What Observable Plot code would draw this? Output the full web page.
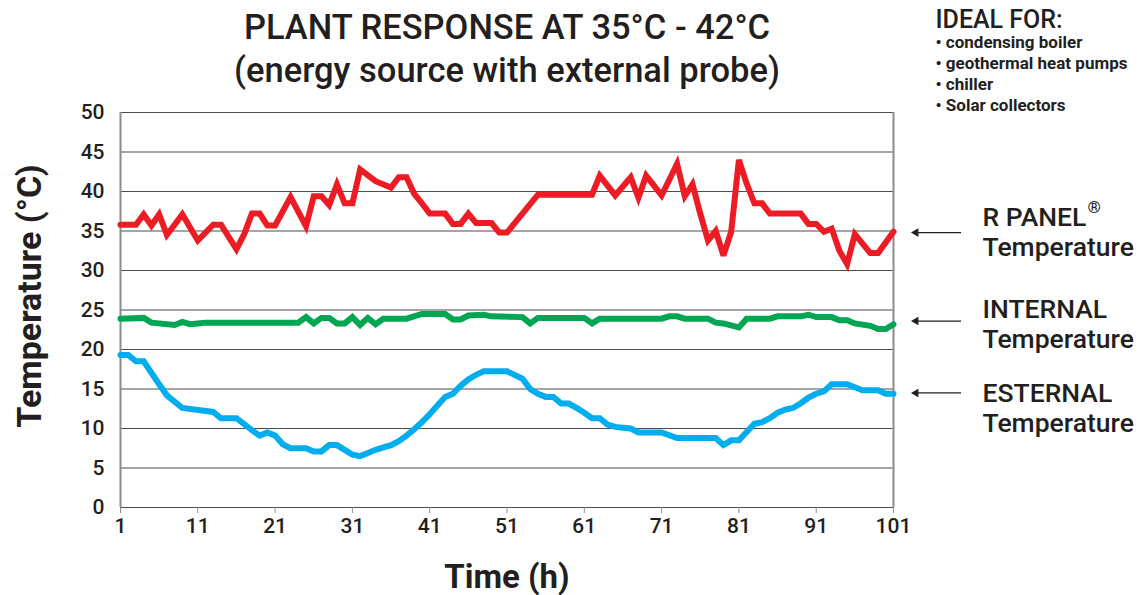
<!DOCTYPE html>
<html>
<head>
<meta charset="utf-8">
<script src="https://cdn.jsdelivr.net/npm/d3@7"></script>
<script src="https://cdn.jsdelivr.net/npm/@observablehq/plot@0.6"></script>
<style>
  html, body { margin: 0; padding: 0; background: #fff; }
  #chart { width: 1142px; height: 595px; }
</style>
</head>
<body>
<div id="chart"></div>
<script>
// ---------- data ----------
const titleLines = ["PLANT RESPONSE AT 35°C - 42°C", "(energy source with external probe)"];
const idealTitle = "IDEAL FOR:";
const idealItems = ["• condensing boiler", "• geothermal heat pumps", "• chiller", "• Solar collectors"];
const xTicks = [1, 11, 21, 31, 41, 51, 61, 71, 81, 91, 101];
const yTicks = [0, 5, 10, 15, 20, 25, 30, 35, 40, 45, 50];
const xLabel = "Time (h)";
const yLabel = "Temperature (°C)";

// R PANEL temperature (vertices: hour, °C)
const panelHours = [1,3,4,5,6,7,9,11,13,14,16,17,18,19,20,21,23,25,26,27,28,29,30,31,32,34,36,37,38,39,40,41,43,44,45,46,47,49,50,51,55,62,63,65,67,68,69,71,73,74,75,76,77,78,79,80,81,82,83,84,85,89,90,91,92,93,94,95,96,98,99,101];
const panelTemps = [35.8,35.8,37.1,35.7,37.1,34.5,37.1,33.8,35.8,35.8,32.7,34.6,37.2,37.2,35.7,35.7,39.3,35.6,39.4,39.4,38.3,40.9,38.5,38.5,42.8,41.3,40.5,41.8,41.8,39.7,38.5,37.2,37.2,35.9,35.9,37.2,36.0,36.0,34.8,34.8,39.6,39.6,42.0,39.5,41.8,39.2,42.0,39.5,43.5,39.4,40.9,37.2,33.8,35.0,31.9,34.9,44.0,41.0,38.5,38.5,37.2,37.2,35.9,35.9,34.9,35.3,32.5,30.8,34.6,32.2,32.2,34.9];

// INTERNAL temperature
const internalHours = [1,4,5,8,9,10,11,12,24,25,26,27,28,29,30,31,32,33,34,35,38,40,43,44,45,46,48,49,53,54,55,61,62,63,71,72,73,74,77,78,79,81,82,85,86,89,90,91,93,94,95,96,98,99,100,101];
const internalTemps = [23.9,24.0,23.4,23.1,23.5,23.2,23.3,23.4,23.4,24.1,23.3,24.0,24.0,23.3,23.3,24.1,23.1,24.0,23.2,23.9,23.9,24.5,24.5,23.8,23.8,24.3,24.4,24.2,24.1,23.3,24.0,24.0,23.3,23.9,23.9,24.2,24.2,23.9,23.9,23.4,23.3,22.8,23.9,23.9,24.2,24.2,24.4,24.1,24.1,23.7,23.7,23.3,23.0,22.6,22.6,23.2];

// ESTERNAL (external) temperature
const externalHours = [1,2,3,4,6,7,9,13,14,16,18,19,20,21,22,23,25,26,27,28,29,31,32,33,34,35,36,37,38,39,40,41,42,43,44,45,46,47,48,51,53,54,55,56,57,58,59,60,61,62,63,64,65,66,67,68,71,73,78,79,80,81,83,84,85,86,87,88,89,90,91,92,93,95,97,99,100,101];
const externalTemps = [19.3,19.3,18.5,18.5,15.6,14.2,12.6,12.1,11.3,11.3,9.8,9.1,9.5,9.1,8.0,7.5,7.5,7.1,7.1,7.9,7.9,6.7,6.5,6.9,7.3,7.6,7.9,8.4,9.1,9.9,10.8,11.8,12.9,14.0,14.4,15.4,16.2,16.8,17.25,17.25,16.3,15.0,14.4,14.0,14.0,13.15,13.15,12.6,12.0,11.3,11.3,10.5,10.2,10.1,10.0,9.5,9.5,8.8,8.8,7.9,8.5,8.5,10.6,10.8,11.3,12.0,12.4,12.6,13.2,13.9,14.4,14.7,15.6,15.6,14.85,14.85,14.4,14.4];

// right-hand series labels
const seriesNames = ["R PANEL\nTemperature", "INTERNAL\nTemperature", "ESTERNAL\nTemperature"];
const registered = "®";
const arrowLevels = [34.8, 23.6, 14.5];
const labelLevels = [34.9, 23.3, 12.7];

// ---------- styling / layout ----------
const ink = "#231f20";
const colors = { panel: "#ed1c24", internal: "#00a651", external: "#00aeef" };
const font = "Roboto, 'Noto Sans', sans-serif";

const toRows = (hours, temps) => hours.map((h, i) => ({ h, t: temps[i] }));
const panel = toRows(panelHours, panelTemps);
const internal = toRows(internalHours, internalTemps);
const external = toRows(externalHours, externalTemps);
const labels = seriesNames.map((s, i) => ({ s, a: arrowLevels[i], l: labelLevels[i] }));

const lineOpts = { x: "h", y: "t", strokeWidth: 6, strokeLinejoin: "miter", strokeMiterlimit: 3, curve: "linear" };

const chart = Plot.plot({
  width: 1142,
  height: 595,
  marginLeft: 120,
  marginRight: 249,
  marginTop: 112,
  marginBottom: 88,
  style: { fontFamily: font, background: "#fff", color: ink, overflow: "visible" },
  x: { domain: [1, 101], label: null },
  y: { domain: [0, 50], label: null },
  marks: [
    Plot.ruleY(yTicks, { stroke: "#4d4d4d", strokeWidth: 1.2 }),
    Plot.ruleX([1, 101], { stroke: "#8c8c8c", strokeWidth: 2 }),
    Plot.axisY({ ticks: yTicks, tickSize: 0, tickPadding: 16, fontSize: 21, fontWeight: 500, fill: ink, label: null }),
    Plot.axisX({ ticks: xTicks, tickSize: 6, tickPadding: 5, fontSize: 21, fontWeight: 500, fill: ink, stroke: "#8c8c8c", label: null }),
    Plot.lineY(external, { ...lineOpts, stroke: colors.external }),
    Plot.lineY(internal, { ...lineOpts, stroke: colors.internal }),
    Plot.lineY(panel, { ...lineOpts, stroke: colors.panel }),
    // axis titles
    Plot.text([yLabel], { frameAnchor: "left", textAnchor: "middle", lineAnchor: "middle", dx: -90, dy: -14, rotate: -90, fontSize: 34, fontWeight: 700, fill: ink }),
    Plot.text([xLabel], { frameAnchor: "bottom", lineAnchor: "middle", dy: 70, fontSize: 33, fontWeight: 700, fill: ink }),
    // title
    Plot.text([titleLines.join("\n")], { frameAnchor: "top", lineAnchor: "middle", dy: -65.5, lineHeight: 1.25, fontSize: 34.5, fontWeight: 500, fill: ink }),
    // ideal for
    Plot.text([idealTitle], { frameAnchor: "top-right", lineAnchor: "middle", dx: 42, dy: -93, textAnchor: "start", fontSize: 25, fontWeight: 500, fill: ink }),
    Plot.text([idealItems.join("\n")], { frameAnchor: "top-right", lineAnchor: "middle", dx: 42, dy: -39.5, textAnchor: "start", lineHeight: 1.24, fontSize: 17, fontWeight: 700, fill: ink }),
    // series labels with arrows
    Plot.ruleY(labels, { y: "a", x1: 103.8, x2: 109.8, stroke: ink, strokeWidth: 1.3, clip: false }),
    Plot.dot(labels, { y: "a", x: 103.9, symbol: "triangle", rotate: -90, r: 3.2, fill: ink, stroke: null }),
    Plot.text(labels, { y: "l", text: "s", frameAnchor: "right", dx: 89, textAnchor: "start", lineHeight: 1.13, fontSize: 26.5, fontWeight: 500, fill: ink }),
    Plot.text(labels.slice(0, 1), { y: "l", text: () => registered, frameAnchor: "right", dx: 194, dy: -24, textAnchor: "start", fontSize: 17, fontWeight: 500, fill: ink })
  ]
});
document.getElementById("chart").appendChild(chart);
</script>
</body>
</html>
